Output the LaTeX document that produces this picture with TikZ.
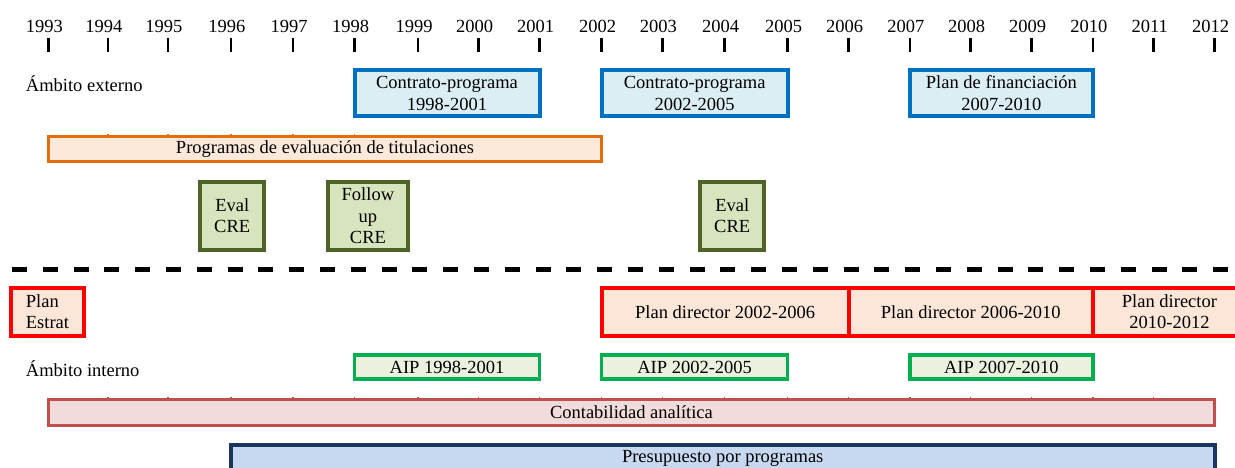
\documentclass[tikz,border=0pt]{standalone}
\usepackage{fontspec}
\setmainfont{Liberation Serif}
\definecolor{cpborder}{HTML}{0070C0}
\definecolor{cpfill}{HTML}{DBEEF4}
\definecolor{orborder}{HTML}{E46C0A}
\definecolor{orfill}{HTML}{FDE9D9}
\definecolor{olborder}{HTML}{4F6228}
\definecolor{olfill}{HTML}{D7E4BD}
\definecolor{rdborder}{HTML}{FF0000}
\definecolor{rdfill}{HTML}{FCE6D8}
\definecolor{gnborder}{HTML}{00B050}
\definecolor{gnfill}{HTML}{EBF1DE}
\definecolor{caborder}{HTML}{C0504D}
\definecolor{cafill}{HTML}{F2DCDB}
\definecolor{ppborder}{HTML}{17375E}
\definecolor{ppfill}{HTML}{C6D9F1}
\begin{document}
\begin{tikzpicture}[x=1pt,y=-1pt,
  font=\fontsize{18.5}{21.5}\selectfont,
  box/.style={draw, rectangle, inner sep=0pt, align=center},
  cpbox/.style={box, draw=cpborder, fill=cpfill, line width=4pt, minimum height=46pt},
  orbox/.style={box, draw=orborder, fill=orfill, line width=3pt},
  crebox/.style={box, draw=olborder, fill=olfill, line width=4pt, minimum height=67.7pt},
  pdbox/.style={box, draw=rdborder, fill=rdfill, line width=4pt, minimum height=47.7pt},
  aipbox/.style={box, draw=gnborder, fill=gnfill, line width=3.5pt, minimum height=24pt},
  cabox/.style={box, draw=caborder, fill=cafill, line width=3pt},
  ppbox/.style={box, draw=ppborder, fill=ppfill, line width=4pt},
  yearlabel/.style={inner sep=0pt},
  tickline/.style={line width=2.5pt},
  nub/.style={line width=1.5pt},
  sepline/.style={line width=5pt, dash pattern=on 15pt off 15.8pt},
  plainlabel/.style={inner sep=0pt, anchor=west}]
\useasboundingbox (0,0) rectangle (1235,467);
\clip (0,0) rectangle (1235,467);

% year axis
\foreach \yy/\xx in {1993/48.3,1994/107.8,1995/167.8,1996/230.8,1997/293.2,
  1998/354.5,1999/418,2000/478.7,2001/539.5,2002/601.6,2003/662.4,2004/724.5,
  2005/787.7,2006/848.6,2007/909.9,2008/970.7,2009/1031.6,2010/1092.9,
  2011/1153.7,2012/1214.6}{
  \node[yearlabel] (L\yy) at (\xx-4,26.5) {\yy};
  \coordinate (A\yy) at (\xx,38);
  \coordinate (B\yy) at (\xx,52.3);
  \draw[tickline] (A\yy) -- (B\yy);
}

% external scope
\node[plainlabel] (ext) at (25.7,83.3) {Ámbito externo};
\node[cpbox, minimum width=185pt] (cp1) at (447,93.3) {Contrato-programa\\1998-2001};
\node[cpbox, minimum width=186.1pt] (cp2) at (694.65,93.3) {Contrato-programa\\2002-2005};
\node[cpbox, minimum width=183pt] (pf) at (1001.4,93.3) {Plan de financiación\\2007-2010};

\foreach \xx in {107.8,167.8,230.8,293.2,354.5}{
  \draw[nub, orborder] (\xx,133.5) -- (\xx,136);
}
\node[orbox, minimum width=553.3pt, minimum height=25.3pt] (pet) at (324.95,149.2) {Programas de evaluación de titulaciones};

\node[crebox, minimum width=63.6pt] (cre1) at (232.2,215.9) {Eval\\CRE};
\node[crebox, minimum width=80.3pt] (cre2) at (367.9,215.9) {Follow\\up\\CRE};
\node[crebox, minimum width=64.4pt] (cre3) at (732.2,215.9) {Eval\\CRE};

% separator
\coordinate (s1) at (12,269);
\coordinate (s2) at (1229,269);
\draw[sepline] (s1) -- (s2);

% internal scope
\node[pdbox, minimum width=73pt, align=left] (pe) at (47.5,311.9) {Plan\\Estrat};
\node[pdbox, minimum width=247pt] (pd1) at (725.1,311.9) {Plan director 2002-2006};
\node[pdbox, minimum width=244.3pt] (pd2) at (970.75,311.9) {Plan director 2006-2010};
\node[pdbox, minimum width=153.1pt] (pd3) at (1169.45,311.9) {Plan director\\2010-2012};

\node[plainlabel] (int) at (25.7,368.3) {Ámbito interno};
\node[aipbox, minimum width=185pt] (aip1) at (447,367.2) {AIP 1998-2001};
\node[aipbox, minimum width=186.1pt] (aip2) at (694.65,367.2) {AIP 2002-2005};
\node[aipbox, minimum width=183pt] (aip3) at (1001.4,367.2) {AIP 2007-2010};

\foreach \xx in {107.8,167.8,230.8,293.2,354.5,418,478.7,539.5,601.6,662.4,
  724.5,787.7,848.6,909.9,970.7,1031.6,1092.9,1153.7}{
  \draw[nub, caborder] (\xx,396.5) -- (\xx,399);
}
\node[cabox, minimum width=1166.3pt, minimum height=26pt] (ca) at (631.45,412.2) {Contabilidad analítica};

\node[ppbox, minimum width=983.8pt, minimum height=28pt] (pp) at (722.7,458.7) {Presupuesto por programas};
\end{tikzpicture}
\end{document}
